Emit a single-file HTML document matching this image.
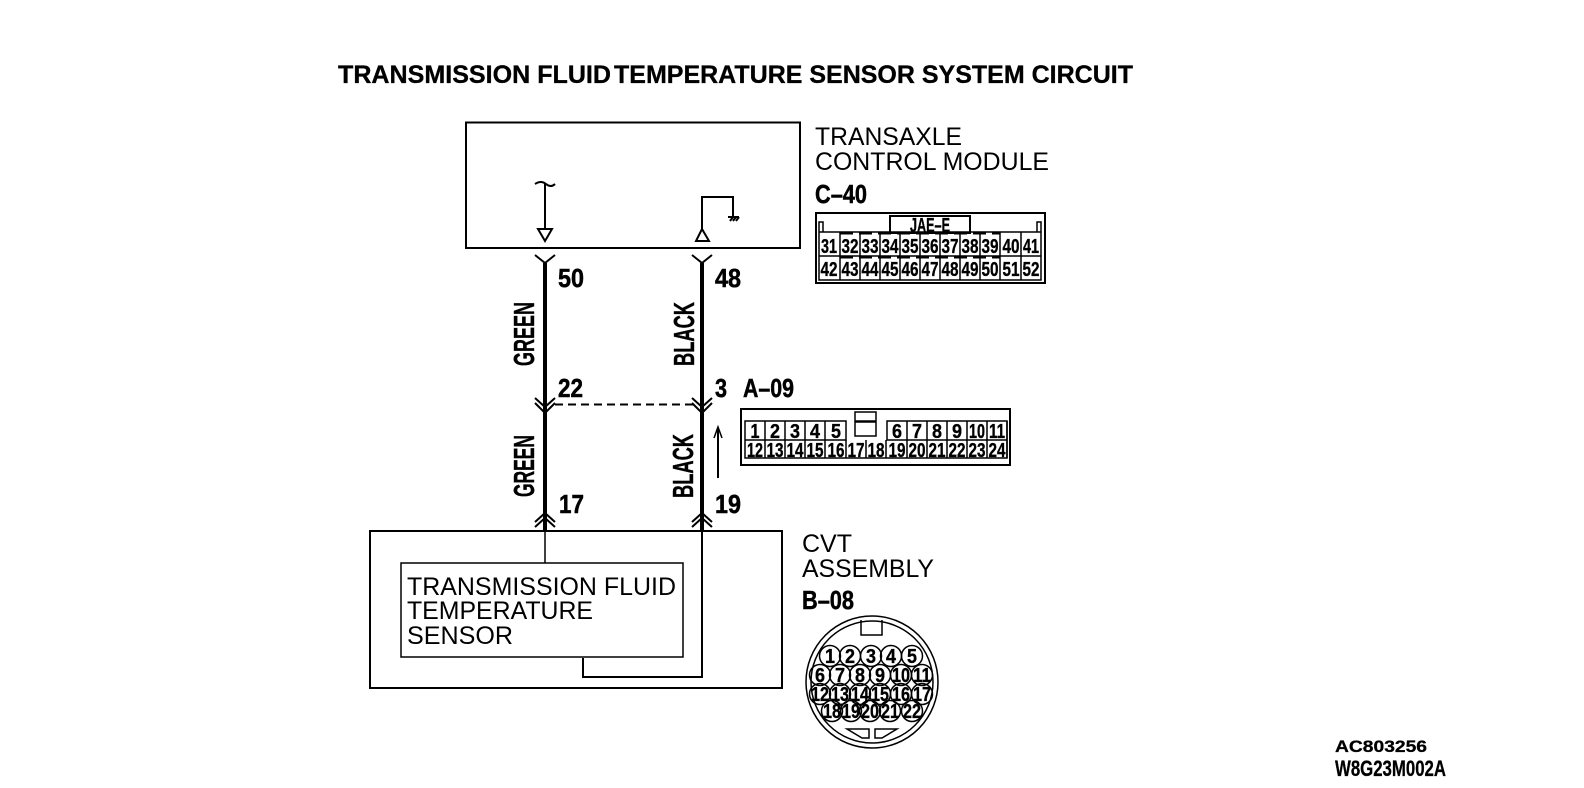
<!DOCTYPE html>
<html><head><meta charset="utf-8"><style>
html,body{margin:0;padding:0;background:#fff}
svg{display:block}
text{font-family:"Liberation Sans",sans-serif;fill:#000}
.b{font-weight:bold;stroke:#000;stroke-width:.3}
.t{font-size:25px;font-weight:bold;stroke:#000;stroke-width:.3}
.r{font-size:25px}
.l{font-size:26px;font-weight:bold;stroke:#000;stroke-width:.5}
.g{font-size:29px;font-weight:bold;stroke:#000;stroke-width:.4}
.n{font-size:20px;font-weight:bold;text-anchor:middle;stroke:#000;stroke-width:.35}
.p{font-size:20px;font-weight:bold;text-anchor:middle;stroke:#000;stroke-width:.35}
.s{fill:none;stroke:#000;stroke-width:1.5}
.m{fill:none;stroke:#000;stroke-width:2}
</style></head><body>
<svg width="1584" height="788" viewBox="0 0 1584 788" xmlns="http://www.w3.org/2000/svg">
<rect width="1584" height="788" fill="#fff"/>
<text class="t" x="338" y="83" textLength="273" lengthAdjust="spacingAndGlyphs">TRANSMISSION FLUID</text>
<text class="t" x="614" y="83" textLength="519" lengthAdjust="spacingAndGlyphs">TEMPERATURE SENSOR SYSTEM CIRCUIT</text>

<rect class="m" x="466" y="122.500" width="334" height="125.500"/>
<text class="r" x="815" y="145" textLength="147" lengthAdjust="spacingAndGlyphs">TRANSAXLE</text>
<text class="r" x="815" y="170" textLength="234" lengthAdjust="spacingAndGlyphs">CONTROL MODULE</text>
<text class="l" x="815" y="203" textLength="52" lengthAdjust="spacingAndGlyphs">C–40</text>

<path class="m" d="M535 184Q541 180 546 184T555 184"/>
<path class="m" d="M545 184V228"/>
<path class="m" d="M538 229H552L545 241Z"/>
<path class="m" d="M702 229V197H733V217"/>
<path class="m" d="M696 241H709L702 229Z"/>
<path class="m" d="M728 217H739M730 221L733 217M733 221L736 217M736 221L739 217"/>

<path d="M545 263V531M702 263V531" fill="none" stroke="#000" stroke-width="4"/>
<path class="m" d="M535 255L545 263L555 255M692 255L702 263L712 255"/>
<path class="m" d="M535 398L545 407L555 398M535 403L545 413L555 403M692 398L702 407L712 398M692 403L702 413L712 403"/>
<path class="m" d="M535 522L545 513L555 522M535 527L545 518L555 527M692 522L702 513L712 522M692 527L702 518L712 527"/>
<path class="m" d="M555 404.500H693" stroke-dasharray="8 5"/>
<path class="m" d="M718 478V429"/>
<path class="s" d="M714 438L718 427L722 438"/>

<text class="l" x="558" y="287" textLength="26" lengthAdjust="spacingAndGlyphs">50</text>
<text class="l" x="715" y="287" textLength="26" lengthAdjust="spacingAndGlyphs">48</text>
<text class="l" x="558" y="397" textLength="25" lengthAdjust="spacingAndGlyphs">22</text>
<text class="l" x="715" y="397" textLength="12" lengthAdjust="spacingAndGlyphs">3</text>
<text class="l" x="743" y="397" textLength="51" lengthAdjust="spacingAndGlyphs">A–09</text>
<text class="l" x="559" y="513" textLength="25" lengthAdjust="spacingAndGlyphs">17</text>
<text class="l" x="715" y="513" textLength="26" lengthAdjust="spacingAndGlyphs">19</text>
<text class="g" transform="translate(534 366) rotate(-90)" textLength="64" lengthAdjust="spacingAndGlyphs">GREEN</text>
<text class="g" transform="translate(694 366) rotate(-90)" textLength="64" lengthAdjust="spacingAndGlyphs">BLACK</text>
<text class="g" transform="translate(534 497) rotate(-90)" textLength="62" lengthAdjust="spacingAndGlyphs">GREEN</text>
<text class="g" transform="translate(693 498) rotate(-90)" textLength="64" lengthAdjust="spacingAndGlyphs">BLACK</text>

<path class="m" d="M370 531H782V688H370Z"/>
<rect class="s" x="401" y="563" width="282" height="94"/>
<path class="s" d="M545 531V563"/>
<path class="s" d="M702 531V677"/>
<path class="m" d="M702 531V677H583V658"/>
<text class="r" x="407" y="595" textLength="269" lengthAdjust="spacingAndGlyphs">TRANSMISSION FLUID</text>
<text class="r" x="407" y="619" textLength="186" lengthAdjust="spacingAndGlyphs">TEMPERATURE</text>
<text class="r" x="407" y="644" textLength="106" lengthAdjust="spacingAndGlyphs">SENSOR</text>
<text class="r" x="802" y="552" textLength="50" lengthAdjust="spacingAndGlyphs">CVT</text>
<text class="r" x="802" y="577" textLength="132" lengthAdjust="spacingAndGlyphs">ASSEMBLY</text>
<text class="l" x="802" y="609" textLength="52" lengthAdjust="spacingAndGlyphs">B–08</text>

<!-- C-40 connector -->
<rect class="m" x="816" y="213" width="229" height="70"/>
<path class="s" d="M819 232V280H1041V232M819 232V222H823V232M1037 232V222H1041V232M819 232H1041M819 256H1041"/>
<path class="s" d="M840 232V280M860 232V280M880 232V280M900 232V280M920 232V280M940 232V280M960 232V280M980 232V280M1000 232V280M1021 232V280"/>
<path d="M840 233H1000M840 257H1000" stroke="#000" stroke-width="3" stroke-dasharray="13 6" fill="none"/>
<rect class="m" x="890" y="216" width="80" height="17" fill="#fff"/>
<text class="n" x="930" y="232" textLength="40" lengthAdjust="spacingAndGlyphs">JAE–E</text>
<text class="n" x="829" y="253" textLength="16" lengthAdjust="spacingAndGlyphs">31</text>
<text class="n" x="850" y="253" textLength="17" lengthAdjust="spacingAndGlyphs">32</text>
<text class="n" x="870" y="253" textLength="17" lengthAdjust="spacingAndGlyphs">33</text>
<text class="n" x="890" y="253" textLength="17" lengthAdjust="spacingAndGlyphs">34</text>
<text class="n" x="910" y="253" textLength="17" lengthAdjust="spacingAndGlyphs">35</text>
<text class="n" x="930" y="253" textLength="17" lengthAdjust="spacingAndGlyphs">36</text>
<text class="n" x="950" y="253" textLength="17" lengthAdjust="spacingAndGlyphs">37</text>
<text class="n" x="970" y="253" textLength="17" lengthAdjust="spacingAndGlyphs">38</text>
<text class="n" x="990" y="253" textLength="17" lengthAdjust="spacingAndGlyphs">39</text>
<text class="n" x="1011" y="253" textLength="17" lengthAdjust="spacingAndGlyphs">40</text>
<text class="n" x="1031" y="253" textLength="16" lengthAdjust="spacingAndGlyphs">41</text>
<text class="n" x="829" y="276" textLength="17" lengthAdjust="spacingAndGlyphs">42</text>
<text class="n" x="850" y="276" textLength="17" lengthAdjust="spacingAndGlyphs">43</text>
<text class="n" x="870" y="276" textLength="17" lengthAdjust="spacingAndGlyphs">44</text>
<text class="n" x="890" y="276" textLength="17" lengthAdjust="spacingAndGlyphs">45</text>
<text class="n" x="910" y="276" textLength="17" lengthAdjust="spacingAndGlyphs">46</text>
<text class="n" x="930" y="276" textLength="17" lengthAdjust="spacingAndGlyphs">47</text>
<text class="n" x="950" y="276" textLength="17" lengthAdjust="spacingAndGlyphs">48</text>
<text class="n" x="970" y="276" textLength="17" lengthAdjust="spacingAndGlyphs">49</text>
<text class="n" x="990" y="276" textLength="17" lengthAdjust="spacingAndGlyphs">50</text>
<text class="n" x="1011" y="276" textLength="17" lengthAdjust="spacingAndGlyphs">51</text>
<text class="n" x="1031" y="276" textLength="17" lengthAdjust="spacingAndGlyphs">52</text>

<!-- A-09 connector -->
<rect class="m" x="741" y="409" width="269" height="56"/>
<path class="s" d="M745 421H846V440H745ZM887 421H1007V440H887ZM745 440V458H1007V440"/>
<path class="s" d="M765 421V458M785 421V458M805 421V458M825 421V458M846 440V458M866 440V458M886 440V458M907 421V458M927 421V458M947 421V458M967 421V458M987 421V458M1007 421V458"/>
<path class="s" d="M855 412H876V421H855ZM855 422H876V436H855Z"/>
<text class="n" x="755" y="438" textLength="9" lengthAdjust="spacingAndGlyphs">1</text>
<text class="n" x="775" y="438" textLength="10" lengthAdjust="spacingAndGlyphs">2</text>
<text class="n" x="795" y="438" textLength="10" lengthAdjust="spacingAndGlyphs">3</text>
<text class="n" x="815" y="438" textLength="10" lengthAdjust="spacingAndGlyphs">4</text>
<text class="n" x="836" y="438" textLength="10" lengthAdjust="spacingAndGlyphs">5</text>
<text class="n" x="897" y="438" textLength="10" lengthAdjust="spacingAndGlyphs">6</text>
<text class="n" x="917" y="438" textLength="10" lengthAdjust="spacingAndGlyphs">7</text>
<text class="n" x="937" y="438" textLength="10" lengthAdjust="spacingAndGlyphs">8</text>
<text class="n" x="957" y="438" textLength="10" lengthAdjust="spacingAndGlyphs">9</text>
<text class="n" x="977" y="438" textLength="16" lengthAdjust="spacingAndGlyphs">10</text>
<text class="n" x="997" y="438" textLength="16" lengthAdjust="spacingAndGlyphs">11</text>
<text class="n" x="755" y="457" textLength="16" lengthAdjust="spacingAndGlyphs">12</text>
<text class="n" x="775" y="457" textLength="17" lengthAdjust="spacingAndGlyphs">13</text>
<text class="n" x="795" y="457" textLength="17" lengthAdjust="spacingAndGlyphs">14</text>
<text class="n" x="815" y="457" textLength="17" lengthAdjust="spacingAndGlyphs">15</text>
<text class="n" x="836" y="457" textLength="17" lengthAdjust="spacingAndGlyphs">16</text>
<text class="n" x="856" y="457" textLength="17" lengthAdjust="spacingAndGlyphs">17</text>
<text class="n" x="876" y="457" textLength="17" lengthAdjust="spacingAndGlyphs">18</text>
<text class="n" x="897" y="457" textLength="17" lengthAdjust="spacingAndGlyphs">19</text>
<text class="n" x="917" y="457" textLength="17" lengthAdjust="spacingAndGlyphs">20</text>
<text class="n" x="937" y="457" textLength="17" lengthAdjust="spacingAndGlyphs">21</text>
<text class="n" x="957" y="457" textLength="17" lengthAdjust="spacingAndGlyphs">22</text>
<text class="n" x="977" y="457" textLength="17" lengthAdjust="spacingAndGlyphs">23</text>
<text class="n" x="997" y="457" textLength="17" lengthAdjust="spacingAndGlyphs">24</text>

<!-- B-08 connector -->
<circle class="s" cx="872" cy="682" r="66"/>
<circle class="s" cx="872" cy="682" r="61"/>
<path class="s" d="M861 620V635H882V620"/>
<path class="s" d="M847 729H869V738H862ZM875 729H897L882 738H875Z"/>
<g fill="none" stroke="#000" stroke-width="1.500">
<circle cx="830" cy="656" r="10.500"/><circle cx="850" cy="656" r="10.500"/><circle cx="871" cy="656" r="10.500"/><circle cx="891" cy="656" r="10.500"/><circle cx="912" cy="656" r="10.500"/>
<circle cx="820" cy="675" r="10.500"/><circle cx="840" cy="675" r="10.500"/><circle cx="860" cy="675" r="10.500"/><circle cx="880" cy="675" r="10.500"/><circle cx="901" cy="675" r="10.500"/><circle cx="922" cy="675" r="10.500"/>
<circle cx="820" cy="694" r="10.500"/><circle cx="840" cy="694" r="10.500"/><circle cx="860" cy="694" r="10.500"/><circle cx="880" cy="694" r="10.500"/><circle cx="901" cy="694" r="10.500"/><circle cx="922" cy="694" r="10.500"/>
<circle cx="832" cy="711" r="10.500"/><circle cx="851" cy="711" r="10.500"/><circle cx="870" cy="711" r="10.500"/><circle cx="890" cy="711" r="10.500"/><circle cx="912" cy="711" r="10.500"/>
</g>
<text class="p" x="830" y="663" textLength="10" lengthAdjust="spacingAndGlyphs">1</text>
<text class="p" x="850" y="663" textLength="10" lengthAdjust="spacingAndGlyphs">2</text>
<text class="p" x="871" y="663" textLength="10" lengthAdjust="spacingAndGlyphs">3</text>
<text class="p" x="891" y="663" textLength="10" lengthAdjust="spacingAndGlyphs">4</text>
<text class="p" x="912" y="663" textLength="10" lengthAdjust="spacingAndGlyphs">5</text>
<text class="p" x="820" y="682" textLength="10" lengthAdjust="spacingAndGlyphs">6</text>
<text class="p" x="840" y="682" textLength="10" lengthAdjust="spacingAndGlyphs">7</text>
<text class="p" x="860" y="682" textLength="10" lengthAdjust="spacingAndGlyphs">8</text>
<text class="p" x="880" y="682" textLength="10" lengthAdjust="spacingAndGlyphs">9</text>
<text class="p" x="901" y="682" textLength="18" lengthAdjust="spacingAndGlyphs">10</text>
<text class="p" x="922" y="682" textLength="18" lengthAdjust="spacingAndGlyphs">11</text>
<text class="p" x="820" y="701" textLength="18" lengthAdjust="spacingAndGlyphs">12</text>
<text class="p" x="840" y="701" textLength="18" lengthAdjust="spacingAndGlyphs">13</text>
<text class="p" x="860" y="701" textLength="18" lengthAdjust="spacingAndGlyphs">14</text>
<text class="p" x="880" y="701" textLength="18" lengthAdjust="spacingAndGlyphs">15</text>
<text class="p" x="901" y="701" textLength="18" lengthAdjust="spacingAndGlyphs">16</text>
<text class="p" x="922" y="701" textLength="18" lengthAdjust="spacingAndGlyphs">17</text>
<text class="p" x="832" y="718" textLength="18" lengthAdjust="spacingAndGlyphs">18</text>
<text class="p" x="851" y="718" textLength="18" lengthAdjust="spacingAndGlyphs">19</text>
<text class="p" x="870" y="718" textLength="18" lengthAdjust="spacingAndGlyphs">20</text>
<text class="p" x="890" y="718" textLength="18" lengthAdjust="spacingAndGlyphs">21</text>
<text class="p" x="912" y="718" textLength="18" lengthAdjust="spacingAndGlyphs">22</text>

<text class="b" x="1335" y="752" font-size="17" textLength="92" lengthAdjust="spacingAndGlyphs">AC803256</text>
<text class="b" x="1335" y="776" font-size="22" textLength="111" lengthAdjust="spacingAndGlyphs">W8G23M002A</text>
</svg>
</body></html>
